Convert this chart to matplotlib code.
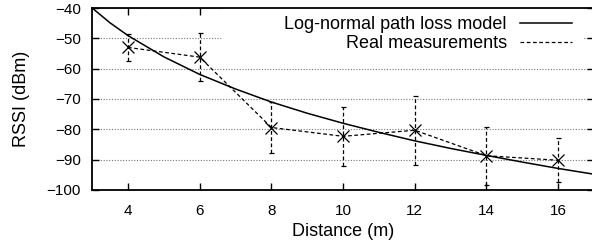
import matplotlib
matplotlib.use("Agg")
import matplotlib.pyplot as plt
from matplotlib.patches import Rectangle

plt.rcParams['font.family'] = ['Liberation Sans', 'DejaVu Sans']

# log-normal model curve
model_dist = [3, 3.5, 4, 5, 6, 7, 8, 9, 10, 11, 12, 13, 14, 15, 16, 17]
model_rssi = [-40.0, -44.9, -49.1, -56.1, -61.9, -66.7, -71.0, -74.7,
              -78.0, -81.0, -83.8, -86.3, -88.6, -90.8, -92.9, -94.8]

# measurements with std error bars
meas_dist = [4, 6, 8, 10, 12, 14, 16]
meas_rssi = [-53.0, -56.2, -79.4, -82.3, -80.3, -88.7, -90.2]
meas_err = [4.5, 7.8, 8.3, 9.7, 11.3, 9.5, 7.2]

fig = plt.figure(figsize=(5.92, 2.47), dpi=100)
ax = fig.add_axes([0.1557, 0.2308, 0.8477, 0.7368])

ax.plot(model_dist, model_rssi, color='k', lw=1.1, label='Log-normal path loss model', zorder=3)

eb = ax.errorbar(meas_dist, meas_rssi, yerr=meas_err, fmt='none', ecolor='k',
                 elinewidth=0.9, capsize=1.8, capthick=0.9, zorder=3)
eb[2][0].set_linestyle((0, (3, 2)))
ax.plot(meas_dist, meas_rssi, color='k', lw=0.9, linestyle=(0, (3, 2)),
        label='Real measurements', zorder=3)
ax.plot(meas_dist, meas_rssi, linestyle='none', marker='x', markersize=8,
        markeredgewidth=0.9, color='k', zorder=4)

ax.set_xlim(3, 17)
ax.set_ylim(-100, -40)
ax.set_xticks([4, 6, 8, 10, 12, 14, 16])
ax.set_yticks([-100, -90, -80, -70, -60, -50, -40])

ax.set_axisbelow(True)
ax.yaxis.grid(True, linestyle=(0, (1, 1.5)), color='#777777', lw=0.8)

# white box behind the legend hides the grid there
ax.add_patch(Rectangle((0.2587, 0.77), 0.7193, 0.23, transform=ax.transAxes,
                       facecolor='white', edgecolor='none', zorder=1))

for s in ax.spines.values():
    s.set_linewidth(1.3)
ax.tick_params(direction='in', length=5, width=1, labelsize=11,
               top=True, right=True, pad=8)
ax.tick_params(axis='x', pad=10)

ax.set_xlabel('Distance (m)', fontsize=13, labelpad=4)
ax.set_ylabel('RSSI (dBm)', fontsize=13, labelpad=12)

ax.legend(loc='upper right', bbox_to_anchor=(0.956, 0.955), frameon=False,
          markerfirst=False, fontsize=13, handlelength=2.9, handletextpad=0.7,
          borderpad=0, borderaxespad=0, labelspacing=0.1)

fig.savefig('out.png', dpi=100)
